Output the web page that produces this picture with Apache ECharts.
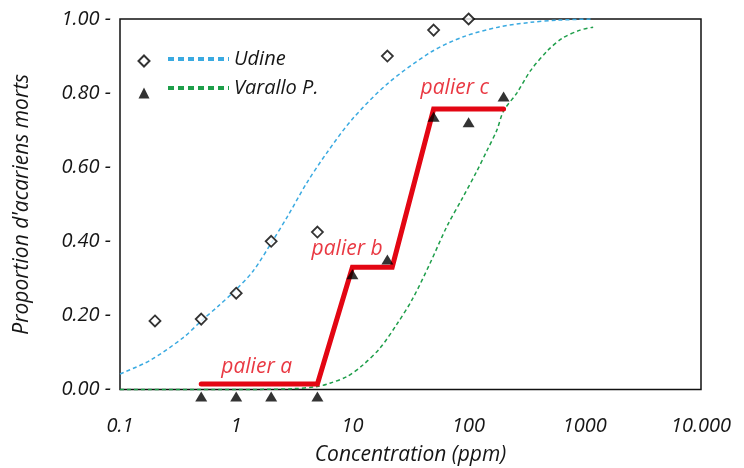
<!DOCTYPE html>
<html>
<head>
<meta charset="utf-8">
<script src="https://cdn.jsdelivr.net/npm/echarts@6/dist/echarts.min.js"></script>
<style>
html,body{margin:0;padding:0;background:#fff;}
#chart{width:744px;height:468px;}
</style>
</head>
<body>
<div id="chart"></div>
<script>
// ---- data ----
const xTickValues = [0.1, 1, 10, 100, 1000, 10000];
const xTickLabels = ['0.1', '1', '10', '100', '1000', '10.000'];
const yTickValues = [0, 0.2, 0.4, 0.6, 0.8, 1.0];
const yTickLabels = ['0.00 -', '0.20 -', '0.40 -', '0.60 -', '0.80 -', '1.00 -'];

const udineConc = [0.2, 0.5, 1, 2, 5, 20, 50, 100];
const udineMort = [0.185, 0.19, 0.26, 0.40, 0.425, 0.90, 0.97, 1.00];

const varalloConc = [0.5, 1, 2, 5, 10, 20, 50, 100, 200];
const varalloMort = [0, 0, 0, 0, 0.33, 0.37, 0.755, 0.74, 0.81];

const udineFitConc = [0.1, 0.18, 0.35, 0.5, 0.7, 1, 1.4, 2, 2.8, 4, 6, 10, 20, 47, 90, 180, 340, 600, 1150];
const udineFitMort = [0.042, 0.078, 0.14, 0.185, 0.225, 0.27, 0.32, 0.395, 0.47, 0.555, 0.638, 0.73, 0.825, 0.91, 0.952, 0.978, 0.991, 0.997, 1.0];

const varalloFitConc = [0.1, 1, 3, 5, 6.4, 9, 12.3, 17.3, 24, 33, 46.5, 65, 88, 118, 144, 175, 200, 260, 340, 480, 640, 910, 1180];
const varalloFitMort = [0, 0, 0.002, 0.008, 0.017, 0.035, 0.066, 0.112, 0.175, 0.245, 0.34, 0.44, 0.515, 0.59, 0.645, 0.70, 0.752, 0.80, 0.86, 0.915, 0.948, 0.97, 0.978];

const palierConc = [0.5, 5, 10, 22, 50, 200];
const palierMort = [0.015, 0.015, 0.33, 0.33, 0.757, 0.757];

const palierNames = ['palier a', 'palier b', 'palier c'];
const palierLabelConc = [1.5, 9, 76];
const palierLabelMort = [0.061, 0.379, 0.814];

// ---- chart ----
const FONT = "'Open Sans', 'Noto Sans', sans-serif";
const TXT = '#161616';
const zip = (a, b) => a.map((v, i) => [v, b[i]]);
const chart = echarts.init(document.getElementById('chart'), null, {renderer: 'canvas'});

chart.setOption({
  animation: false,
  backgroundColor: '#fff',
  textStyle: {fontFamily: FONT},
  grid: {left: 120, top: 19, width: 581, height: 370.5, outerBoundsMode: 'none', containLabel: false,
    show: true, borderColor: '#111', borderWidth: 1.5, backgroundColor: 'transparent'},
  legend: [
    {
      left: 137.5, top: 54.5, padding: 0, orient: 'vertical',
      itemWidth: 11, itemHeight: 11, itemGap: 20,
      selectedMode: false,
      data: ['Udine (points)', 'Varallo P. (points)'],
      formatter: () => ''
    },
    {
      left: 166, top: 45, padding: 0, orient: 'vertical',
      itemWidth: 61, itemHeight: 14, itemGap: 1,
      selectedMode: false,
      data: ['Udine', 'Varallo P.'],
      itemStyle: {opacity: 0},
      lineStyle: {width: 4, type: [6, 4]},
      textStyle: {fontFamily: FONT, fontStyle: 'italic', fontSize: 20, color: TXT, lineHeight: 28}
    }
  ],
  xAxis: {
    type: 'log', logBase: 10, min: 0.1, max: 10000,
    name: 'Concentration (ppm)', nameLocation: 'middle', nameGap: 55,
    nameTextStyle: {fontFamily: FONT, fontStyle: 'italic', fontSize: 21, color: TXT},
    axisLine: {show: false}, axisTick: {show: false}, splitLine: {show: false},
    axisLabel: {
      margin: 27, fontFamily: FONT, fontStyle: 'italic', fontSize: 20, color: TXT,
      showMinLabel: true, showMaxLabel: true,
      formatter: v => { const i = xTickValues.findIndex(t => Math.abs(Math.log10(t) - Math.log10(v)) < 1e-6); return i >= 0 ? xTickLabels[i] : ''; }
    }
  },
  yAxis: {
    type: 'value', min: 0, max: 1, interval: 0.2,
    name: "Proportion d'acariens morts", nameLocation: 'middle', nameGap: 87,
    nameTextStyle: {fontFamily: FONT, fontStyle: 'italic', fontSize: 21, color: TXT},
    axisLine: {show: false}, axisTick: {show: false}, splitLine: {show: false},
    axisLabel: {
      margin: 9, fontFamily: FONT, fontStyle: 'italic', fontSize: 20, color: TXT,
      formatter: v => { const i = yTickValues.findIndex(t => Math.abs(t - v) < 1e-6); return i >= 0 ? yTickLabels[i] : ''; }
    }
  },
  series: [
    {
      name: 'Udine', type: 'line', data: zip(udineFitConc, udineFitMort),
      smooth: 0.3, symbol: 'none', clip: false, silent: true, z: 2,
      lineStyle: {color: '#3AAAE1', width: 1.5, type: [4, 3]},
      itemStyle: {color: '#3AAAE1'}
    },
    {
      name: 'Varallo P.', type: 'line', data: zip(varalloFitConc, varalloFitMort),
      smooth: 0.3, symbol: 'none', clip: false, silent: true, z: 2,
      lineStyle: {color: '#1E9E4A', width: 1.5, type: [4, 3]},
      itemStyle: {color: '#1E9E4A'}
    },
    {
      name: 'paliers', type: 'line', data: zip(palierConc, palierMort),
      symbol: 'none', silent: true, z: 3,
      lineStyle: {color: '#E30613', width: 5, cap: 'round', join: 'miter'}
    },
    {
      name: 'Udine (points)', type: 'scatter', data: zip(udineConc, udineMort),
      symbol: 'diamond', symbolSize: [11, 11], clip: false, silent: true, z: 5,
      itemStyle: {color: '#fff', borderColor: '#000', borderWidth: 1.8}
    },
    {
      name: 'Varallo P. (points)', type: 'scatter', data: zip(varalloConc, varalloMort),
      symbol: 'triangle', symbolSize: [12, 10], symbolOffset: [0, 7], clip: false, silent: true, z: 5,
      itemStyle: {color: '#000'}
    },
    {
      name: 'palier labels', type: 'scatter',
      data: palierLabelConc.map((c, i) => ({value: [c, palierLabelMort[i]], name: palierNames[i]})),
      symbolSize: 1, clip: false, silent: true, z: 6,
      itemStyle: {color: 'transparent'},
      label: {show: true, position: 'inside', formatter: p => p.name,
        fontFamily: FONT, fontStyle: 'italic', fontSize: 21, color: '#E30613'}
    }
  ]
});
</script>
</body>
</html>
